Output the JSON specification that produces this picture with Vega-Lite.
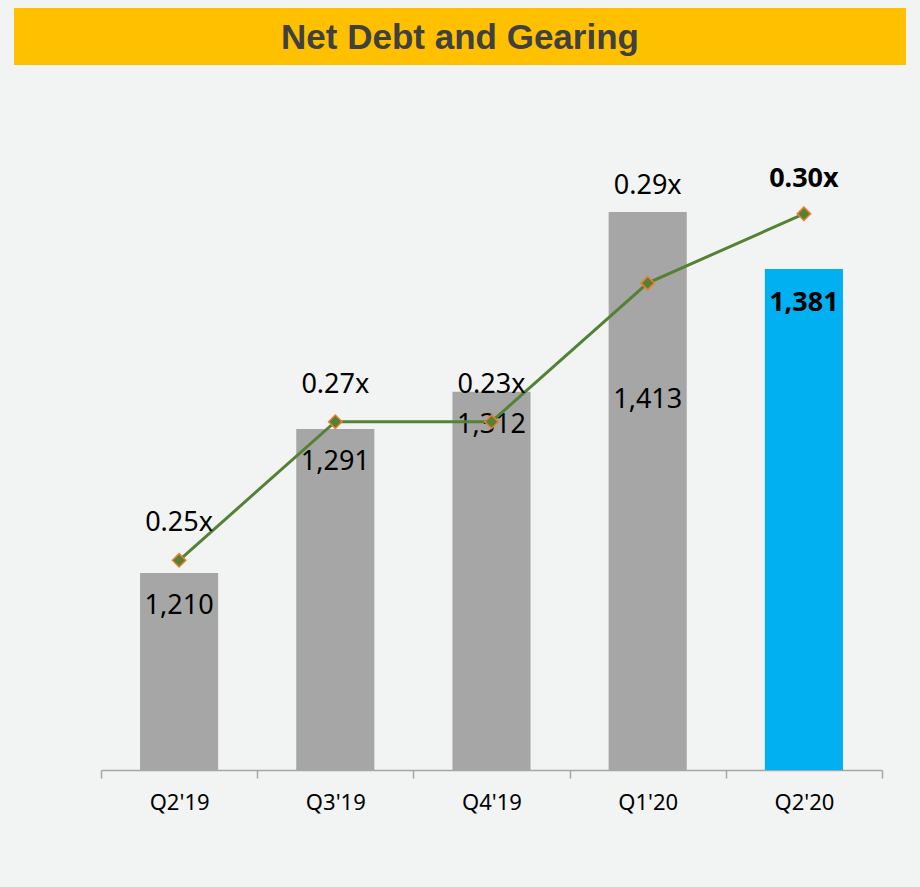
{
  "$schema": "https://vega.github.io/schema/vega-lite/v6.json",
  "background": "#f2f3f3",
  "padding": {"left": 14, "right": 14, "top": 8, "bottom": 76},
  "config": {"view": {"stroke": null}, "font": "Noto Sans"},
  "datasets": {
    "rows": [
      {"q": "Q2'19", "debt": 1210, "gearing": 0.25, "glabel": "0.25x"},
      {"q": "Q3'19", "debt": 1291, "gearing": 0.27, "glabel": "0.27x"},
      {"q": "Q4'19", "debt": 1312, "gearing": 0.27, "glabel": "0.23x"},
      {"q": "Q1'20", "debt": 1413, "gearing": 0.29, "glabel": "0.29x"},
      {"q": "Q2'20", "debt": 1381, "gearing": 0.30, "glabel": "0.30x"}
    ],
    "header": [{"title": "Net Debt and Gearing"}]
  },
  "spacing": 35,
  "vconcat": [
    {
      "width": 892,
      "height": 57,
      "data": {"name": "header"},
      "view": {"fill": "#FFC000", "stroke": null},
      "mark": {"type": "text", "font": "Liberation Sans", "fontWeight": "bold", "fontSize": 35, "color": "#404040", "baseline": "middle", "dy": 1},
      "encoding": {
        "x": {"field": "title", "type": "nominal", "axis": null},
        "y": {"field": "title", "type": "nominal", "axis": null},
        "text": {"field": "title"}
      }
    },
    {
      "width": 892,
      "height": 670,
      "data": {"name": "rows"},
      "resolve": {"scale": {"y": "independent"}},
      "layer": [
        {
          "mark": {"type": "bar", "clip": true, "width": {"band": 0.5}},
          "encoding": {
            "x": {
              "field": "q", "type": "nominal", "sort": null,
              "scale": {"type": "band", "range": [87, 868], "paddingInner": 0, "paddingOuter": 0},
              "axis": {"title": null, "labelAngle": 0, "domainColor": "#a6a6a6", "domainWidth": 1.5, "tickColor": "#a6a6a6", "tickWidth": 1.5, "tickSize": 8, "tickBand": "extent", "labelFont": "Noto Sans", "labelFontSize": 22, "labelColor": "#000000", "labelPadding": 14, "grid": false}
            },
            "y": {"field": "debt", "type": "quantitative", "scale": {"domain": [1099.3, 1476], "nice": false, "zero": false}, "axis": null},
            "color": {"field": "q", "type": "nominal", "scale": {"domain": ["Q2'19", "Q3'19", "Q4'19", "Q1'20", "Q2'20"], "range": ["#a6a6a6", "#a6a6a6", "#a6a6a6", "#a6a6a6", "#00b0f0"]}, "legend": null}
          }
        },
        {
          "transform": [{"filter": {"field": "q", "oneOf": ["Q2'19", "Q3'19", "Q4'19"]}}],
          "mark": {"type": "text", "fontSize": 27, "color": "#000000", "baseline": "middle", "dy": 33},
          "encoding": {
            "x": {"field": "q", "type": "nominal", "sort": null},
            "y": {"field": "debt", "type": "quantitative", "scale": {"domain": [1099.3, 1476], "nice": false, "zero": false}, "axis": null},
            "text": {"field": "debt", "type": "quantitative", "format": ",.0f"}
          }
        },
        {
          "transform": [{"filter": {"field": "q", "equal": "Q1'20"}}],
          "mark": {"type": "text", "fontSize": 27, "color": "#000000", "baseline": "middle", "dy": 188},
          "encoding": {
            "x": {"field": "q", "type": "nominal", "sort": null},
            "y": {"field": "debt", "type": "quantitative", "scale": {"domain": [1099.3, 1476], "nice": false, "zero": false}, "axis": null},
            "text": {"field": "debt", "type": "quantitative", "format": ",.0f"}
          }
        },
        {
          "transform": [{"filter": {"field": "q", "equal": "Q2'20"}}],
          "mark": {"type": "text", "fontSize": 27, "fontWeight": "bold", "color": "#000000", "baseline": "middle", "dy": 34},
          "encoding": {
            "x": {"field": "q", "type": "nominal", "sort": null},
            "y": {"field": "debt", "type": "quantitative", "scale": {"domain": [1099.3, 1476], "nice": false, "zero": false}, "axis": null},
            "text": {"field": "debt", "type": "quantitative", "format": ",.0f"}
          }
        },
        {
          "mark": {"type": "line", "color": "#548235", "strokeWidth": 3},
          "encoding": {
            "x": {"field": "q", "type": "nominal", "sort": null},
            "y": {"field": "gearing", "type": "quantitative", "scale": {"domain": [0.21974, 0.31643], "nice": false, "zero": false}, "axis": null}
          }
        },
        {
          "mark": {"type": "point", "shape": "diamond", "filled": true, "fill": "#548235", "stroke": "#ED7D31", "strokeWidth": 1.5, "size": 180, "opacity": 1},
          "encoding": {
            "x": {"field": "q", "type": "nominal", "sort": null},
            "y": {"field": "gearing", "type": "quantitative", "scale": {"domain": [0.21974, 0.31643], "nice": false, "zero": false}, "axis": null}
          }
        },
        {
          "transform": [{"filter": {"field": "q", "oneOf": ["Q2'19", "Q3'19", "Q4'19"]}}],
          "mark": {"type": "text", "fontSize": 27, "color": "#000000", "baseline": "middle", "dy": -37},
          "encoding": {
            "x": {"field": "q", "type": "nominal", "sort": null},
            "y": {"field": "gearing", "type": "quantitative", "scale": {"domain": [0.21974, 0.31643], "nice": false, "zero": false}, "axis": null},
            "text": {"field": "glabel"}
          }
        },
        {
          "transform": [{"filter": {"field": "q", "equal": "Q1'20"}}],
          "mark": {"type": "text", "fontSize": 27, "color": "#000000", "baseline": "middle", "dy": -97},
          "encoding": {
            "x": {"field": "q", "type": "nominal", "sort": null},
            "y": {"field": "gearing", "type": "quantitative", "scale": {"domain": [0.21974, 0.31643], "nice": false, "zero": false}, "axis": null},
            "text": {"field": "glabel"}
          }
        },
        {
          "transform": [{"filter": {"field": "q", "equal": "Q2'20"}}],
          "mark": {"type": "text", "fontSize": 27, "fontWeight": "bold", "color": "#000000", "baseline": "middle", "dy": -35},
          "encoding": {
            "x": {"field": "q", "type": "nominal", "sort": null},
            "y": {"field": "gearing", "type": "quantitative", "scale": {"domain": [0.21974, 0.31643], "nice": false, "zero": false}, "axis": null},
            "text": {"field": "glabel"}
          }
        }
      ]
    }
  ]
}
